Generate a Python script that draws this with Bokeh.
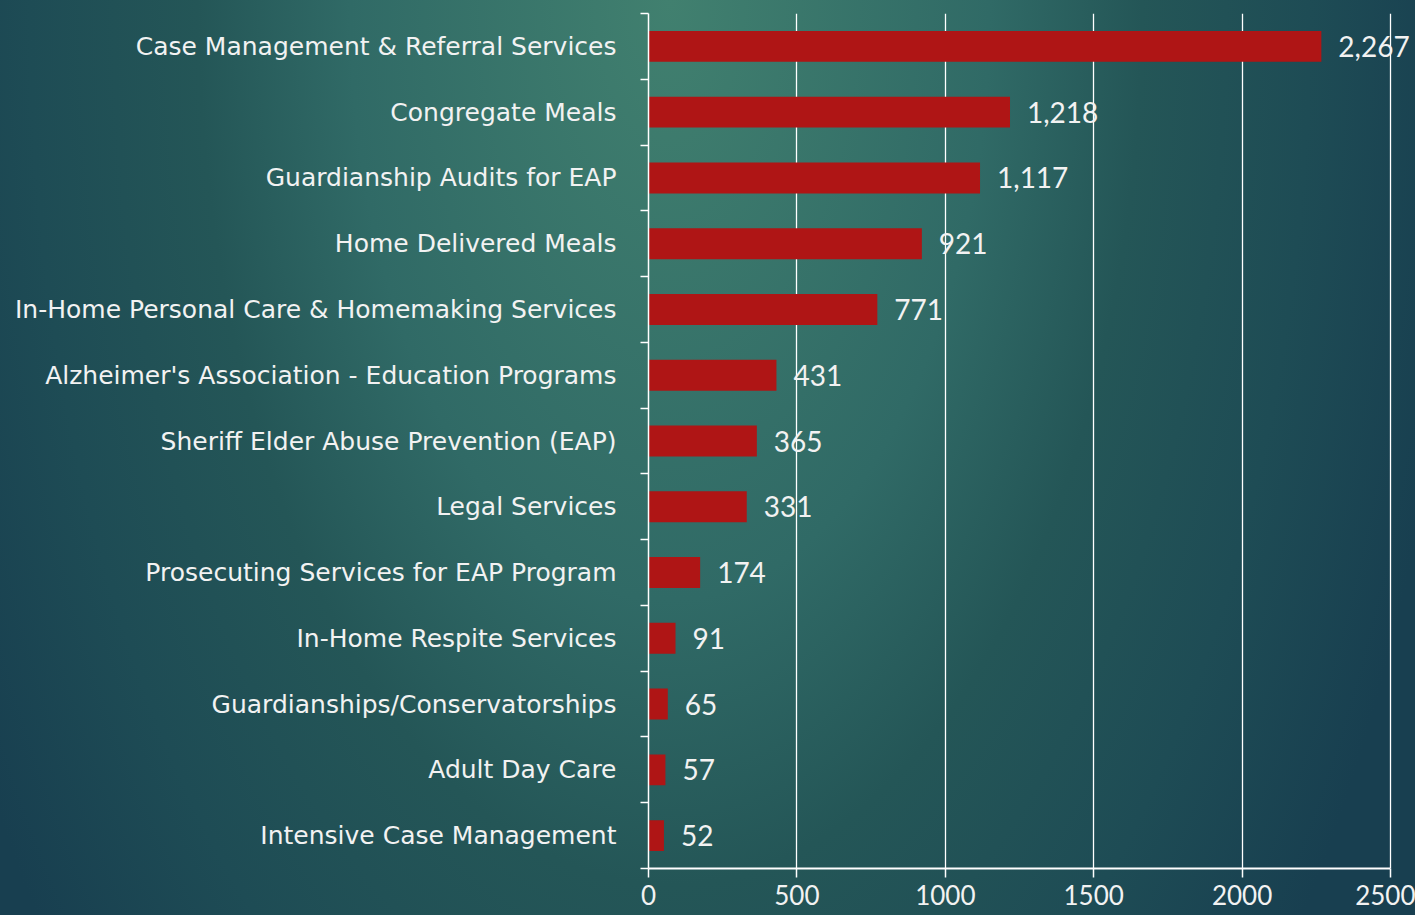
from bokeh.plotting import figure
from bokeh.models import Range1d, FixedTicker, ColumnDataSource
from bokeh.core.properties import value
from bokeh.embed import file_html
from bokeh.resources import INLINE

categories = [
    "Case Management & Referral Services",
    "Congregate Meals",
    "Guardianship Audits for EAP",
    "Home Delivered Meals",
    "In-Home Personal Care & Homemaking Services",
    "Alzheimer's Association - Education Programs",
    "Sheriff Elder Abuse Prevention (EAP)",
    "Legal Services",
    "Prosecuting Services for EAP Program",
    "In-Home Respite Services",
    "Guardianships/Conservatorships",
    "Adult Day Care",
    "Intensive Case Management",
]
values = [2267, 1218, 1117, 921, 771, 431, 365, 331, 174, 91, 65, 57, 52]
x_ticks = [0, 500, 1000, 1500, 2000, 2500]

n = len(categories)
ys = [n - 1 - i for i in range(n)]
labels = [f"{v:,}" for v in values]

FONT = "Lato"
CAT_FONT = "DejaVu Sans"
WHITE = "#f2f2f2"

src = ColumnDataSource(dict(y=ys, v=values, lab=labels, cat=categories))

p = figure(
    width=1415, height=915,
    x_range=Range1d(0, 2584.2), y_range=Range1d(-0.5, n - 0.5),
    output_backend="svg", toolbar_location=None,
    min_border_left=648, min_border_right=0, min_border_top=13, min_border_bottom=47,
)
p.background_fill_alpha = 0
p.border_fill_alpha = 0
p.outline_line_color = None

p.hbar(y="y", left=0, right="v", height=0.47, source=src,
       fill_color="#AF1515", line_color=None)
p.text(x="v", y="y", text="lab", source=src, x_offset=17,
       text_align="left", text_baseline="middle",
       text_font=value(FONT), text_font_size="28px", text_color=WHITE)

# x axis
xa = p.xaxis[0]
xa.ticker = FixedTicker(ticks=x_ticks)
xa.bounds = (0, 2500)
xa.axis_line_color = "white"
xa.axis_line_width = 2
xa.major_tick_line_color = "white"
xa.major_tick_line_width = 1.5
xa.major_tick_in = 0
xa.major_tick_out = 9
xa.minor_tick_line_color = None
xa.major_label_standoff = 7
xa.major_label_text_font = FONT
xa.major_label_text_font_size = "26px"
xa.major_label_text_color = WHITE

# y axis
ya = p.yaxis[0]
ya.ticker = FixedTicker(ticks=ys, minor_ticks=[k - 0.5 for k in range(n + 1)])
ya.major_label_overrides = {y: c for y, c in zip(ys, categories)}
ya.bounds = (-0.5, n - 0.5)
ya.axis_line_color = "white"
ya.axis_line_width = 1.5
ya.major_tick_line_color = None
ya.major_tick_in = 0
ya.major_tick_out = 0
ya.minor_tick_line_color = "white"
ya.minor_tick_line_width = 1.5
ya.minor_tick_in = 0
ya.minor_tick_out = 8
ya.major_label_standoff = 24
ya.major_label_text_font = CAT_FONT
ya.major_label_text_font_size = "25px"
ya.major_label_text_color = WHITE

p.ygrid.grid_line_color = None
p.xgrid.ticker = FixedTicker(ticks=x_ticks)
p.xgrid.grid_line_color = "white"
p.xgrid.grid_line_width = 1.3

html = file_html(p, INLINE)
bg = ("html, body { background: radial-gradient(800px 1500px at 670px 0px, "
      "#41806f 0%, #306a66 40%, #245657 59%, #1e4c55 80%, #183f50 100%) !important; "
      "background-color: #173d4e !important; background-attachment: fixed !important; }")
html = html.replace("</head>", f"<style>{bg}</style>\n</head>", 1)
open("out.html", "w").write(html)
